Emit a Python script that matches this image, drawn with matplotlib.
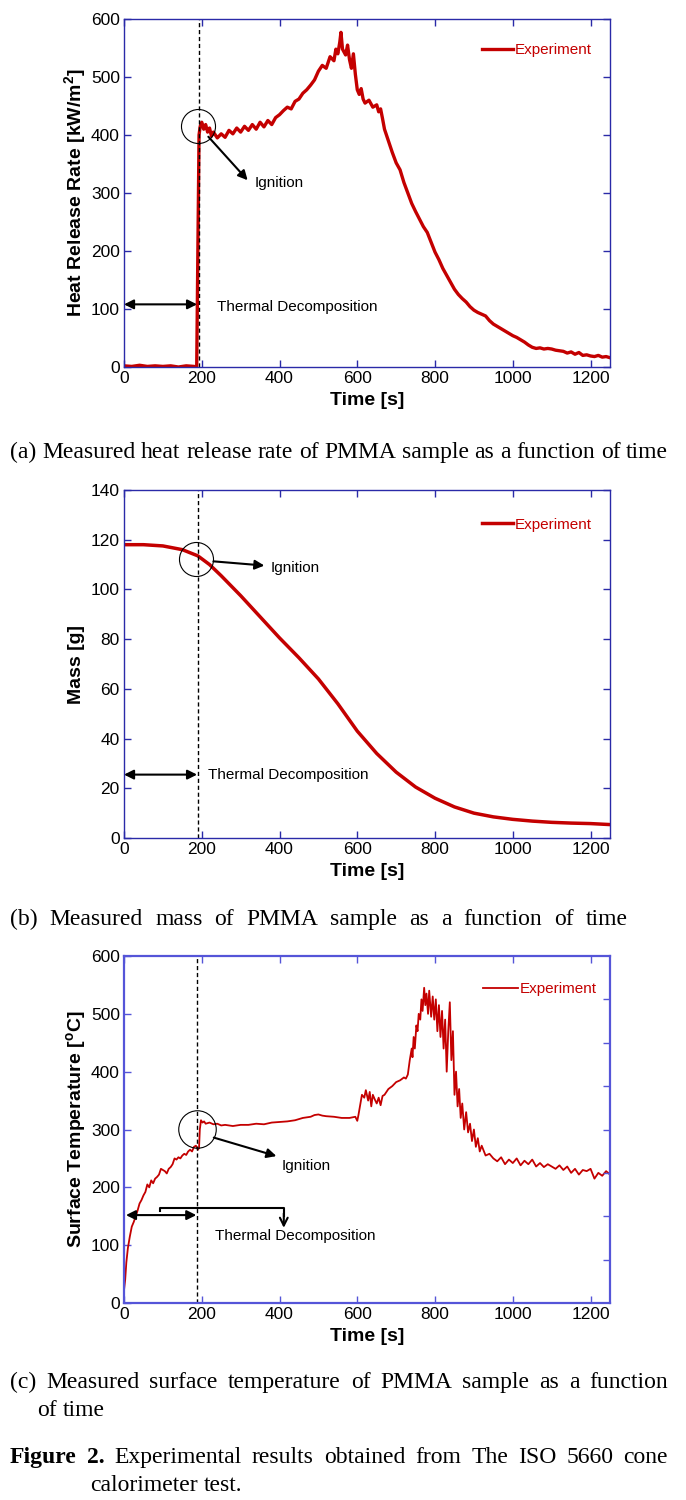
import matplotlib
matplotlib.use('Agg')
import matplotlib.pyplot as plt

plt.rcParams['font.family'] = ['Liberation Sans', 'DejaVu Sans']
plt.rcParams['mathtext.fontset'] = 'custom'
plt.rcParams['mathtext.rm'] = 'Liberation Sans'
plt.rcParams['mathtext.bf'] = 'Liberation Sans:bold'

# (a) heat release rate [kW/m2]
hrr_t = [0, 20, 40, 60, 80, 100, 120, 140, 160, 180, 187, 190, 193, 196, 200, 205, 210, 215, 220, 225,
         230, 240, 250, 260, 270, 280, 290, 300, 310, 320, 330, 340, 350, 360, 370, 380, 390, 400, 410,
         420, 430, 440, 450, 460, 470, 480, 490, 500, 510, 520, 530, 540, 545, 550, 555, 558, 562, 570,
         575, 580, 585, 590, 595, 600, 605, 610, 615, 620, 630, 640, 650, 655, 660, 665, 670, 680, 690,
         700, 710, 720, 730, 740, 750, 760, 770, 780, 790, 800, 810, 820, 830, 840, 850, 860, 870, 880,
         890, 900, 910, 920, 930, 940, 950, 960, 970, 980, 990, 1000, 1010, 1020, 1030, 1040, 1050, 1060,
         1070, 1080, 1090, 1100, 1110, 1120, 1130, 1140, 1150, 1160, 1170, 1180, 1190, 1200, 1210, 1220,
         1230, 1240, 1250]
hrr_v = [2, 1, 3, 1, 2, 1, 2, 0, 2, 1, 0, 200, 400, 415, 422, 410, 418, 405, 412, 398,
         405, 395, 402, 396, 408, 402, 412, 405, 415, 408, 418, 410, 422, 414, 425, 418, 430, 435, 442,
         448, 445, 458, 462, 472, 478, 486, 495, 510, 520, 515, 535, 528, 548, 540, 560, 577, 548, 538,
         555, 530, 515, 540, 505, 478, 470, 480, 462, 455, 460, 448, 452, 440, 445, 428, 410, 390, 370,
         352, 340, 318, 300, 282, 268, 255, 242, 232, 215, 198, 185, 170, 158, 146, 134, 125, 118, 112,
         104, 98, 94, 91, 88, 80, 74, 70, 66, 62, 58, 54, 51, 47, 43, 38, 34, 32,
         33, 31, 32, 31, 29, 28, 27, 24, 26, 22, 25, 20, 21, 19, 18, 20,
         17, 18, 16]

# (b) mass [g]
mass_t = [0, 50, 100, 150, 190, 220, 250, 300, 350, 400, 450, 500, 550, 600, 650, 700, 750, 800,
          850, 900, 950, 1000, 1050, 1100, 1150, 1200, 1250]
mass_v = [118, 118, 117.5, 116, 113.5, 110, 105.5, 97.5, 89, 80.5, 72.5, 64, 54, 43, 34, 26.5, 20.5, 16,
          12.5, 10, 8.5, 7.5, 6.8, 6.3, 6, 5.8, 5.4]

# (c) surface temperature [C]
temp_t = [0, 3, 6, 10, 15, 20, 25, 30, 35, 40, 45, 50, 55, 60, 65, 70, 75, 80, 85, 90, 95, 100, 105,
          110, 115, 120, 125, 130, 135, 140, 145, 150, 155, 160, 165, 170, 175, 180, 185, 190, 193, 195,
          198, 202, 206, 210, 220, 230, 240, 250, 260, 280, 300, 320, 340, 360, 380, 400, 420, 440, 460,
          480, 490, 500, 510, 520, 540, 560, 580, 595, 600, 603, 608, 612, 618, 622, 628, 632, 636, 640,
          645, 650, 655, 660, 665, 670, 680, 690, 700, 710, 720, 725, 730, 735, 740, 742, 745, 748, 752,
          755, 758, 762, 765, 768, 772, 775, 778, 782, 785, 790, 794, 798, 802, 806, 810, 814, 818, 822,
          826, 830, 834, 838, 842, 846, 850, 854, 858, 862, 866, 870, 875, 880, 885, 890, 895, 900, 905,
          910, 915, 920, 930, 940, 950, 960, 970, 980, 990, 1000, 1010, 1020, 1030, 1040, 1050, 1060,
          1070, 1080, 1090, 1100, 1110, 1120, 1130, 1140, 1150, 1160, 1170, 1180, 1190, 1200, 1210, 1220,
          1230, 1240, 1250]
temp_v = [22, 40, 70, 95, 115, 132, 140, 150, 160, 172, 178, 186, 192, 205, 200, 212, 207, 215, 218, 222,
          232, 230, 228, 224, 232, 235, 240, 250, 248, 252, 250, 255, 258, 256, 262, 265, 262, 270, 272,
          265, 268, 300, 316, 312, 314, 310, 312, 309, 310, 307, 308, 306, 308, 308, 310, 309, 312, 313,
          314, 316, 320, 322, 325, 326, 324, 323, 322, 320, 320, 322, 315, 325, 345, 360, 355, 368, 350,
          365, 340, 360, 352, 345, 355, 342, 358, 360, 370, 375, 382, 385, 390, 388, 395, 420, 440, 425,
          460, 440, 480, 470, 500, 490, 525, 505, 545, 515, 535, 500, 540, 495, 530, 490, 525, 470, 515,
          460, 505, 440, 490, 400, 470, 520, 420, 470, 360, 400, 340, 370, 320, 345, 300, 330, 295, 310,
          280, 300, 270, 285, 262, 272, 255, 258, 250, 245, 252, 240, 248, 242, 250, 238, 246, 240, 248,
          236, 242, 235, 240, 236, 232, 238, 230, 236, 225, 232, 222, 230, 228, 232, 215, 225, 220, 228,
          222]

RED = '#c40000'
W, H = 686, 1500

fig = plt.figure(figsize=(6.86, 15), dpi=100)


def make_axes(top_px, bottom_px, spine_color, spine_w):
    ax = fig.add_axes([124 / W, 1 - bottom_px / H, (610 - 124) / W, (bottom_px - top_px) / H])
    ax.set_xlim(0, 1250)
    ax.set_xticks(range(0, 1201, 200))
    ax.tick_params(direction='in', top=True, right=True, length=5, width=1,
                   color=spine_color, labelsize=12.5, pad=3)
    for s in ax.spines.values():
        s.set_color(spine_color)
        s.set_linewidth(spine_w)
    ax.set_xlabel('Time [s]', fontsize=14, fontweight='bold', labelpad=4)
    return ax


def double_arrow(ax, x0, x1, y):
    ax.annotate('', xy=(x0, y), xytext=(x1, y),
                arrowprops=dict(arrowstyle='<|-|>', color='black', lw=1.5,
                                mutation_scale=14, shrinkA=0, shrinkB=0))


def arrow(ax, x0, y0, x1, y1, style='-|>'):
    ax.annotate('', xy=(x1, y1), xytext=(x0, y0),
                arrowprops=dict(arrowstyle=style, color='black', lw=1.5,
                                mutation_scale=14, shrinkA=0, shrinkB=0))


# ---- (a)
ax1 = make_axes(19, 367, '#2a2aa8', 1.0)
ax1.set_ylim(0, 600)
ax1.set_yticks(range(0, 601, 100))
ax1.plot(hrr_t, hrr_v, color=RED, lw=2.4, label='Experiment')
ax1.axvline(192, color='black', ls=(0, (3, 2)), lw=1)
ax1.plot(191, 415, 'o', ms=24.5, mfc='none', mec='black', mew=0.8)
arrow(ax1, 217, 397, 318, 322)
ax1.text(336, 318, 'Ignition', fontsize=11, va='center')
double_arrow(ax1, 0, 188, 108)
ax1.text(238, 103, 'Thermal Decomposition', fontsize=11, va='center')
ax1.set_ylabel(r'Heat Release Rate [kW/m$^\mathbf{2}$]', fontsize=14, fontweight='bold', labelpad=1)
ax1.legend(frameon=False, loc='upper right', bbox_to_anchor=(0.962, 0.93), borderaxespad=0,
           borderpad=0, fontsize=11, labelcolor='linecolor', handlelength=2.0, handletextpad=0.1)

# ---- (b)
ax2 = make_axes(490, 838, '#2a2aa8', 1.0)
ax2.set_ylim(0, 140)
ax2.set_yticks(range(0, 141, 20))
ax2.plot(mass_t, mass_v, color=RED, lw=2.5, label='Experiment')
ax2.axvline(191, color='black', ls=(0, (3, 2)), lw=1)
ax2.plot(186, 112.4, 'o', ms=24.5, mfc='none', mec='black', mew=0.8)
arrow(ax2, 230, 111.3, 361, 109.6)
ax2.text(376, 108.7, 'Ignition', fontsize=11, va='center')
double_arrow(ax2, 0, 188, 25.5)
ax2.text(217, 25.3, 'Thermal Decomposition', fontsize=11, va='center')
ax2.set_ylabel('Mass [g]', fontsize=14, fontweight='bold', labelpad=4)
ax2.legend(frameon=False, loc='upper right', bbox_to_anchor=(0.962, 0.92), borderaxespad=0,
           borderpad=0, fontsize=11, labelcolor='linecolor', handlelength=2.0, handletextpad=0.1)

# ---- (c)
ax3 = make_axes(956, 1303, '#5555d8', 1.6)
ax3.set_ylim(0, 600)
ax3.set_yticks(range(0, 601, 100))
ax3.tick_params(right=False)
ax3r = ax3.twinx()
ax3r.set_ylim(0, 600)
ax3r.set_yticks(range(75, 526, 75))
ax3r.tick_params(direction='in', length=5, width=1, color='#5555d8', labelright=False)
for s in ax3r.spines.values():
    s.set_visible(False)
ax3.plot(temp_t, temp_v, color=RED, lw=1.3, label='Experiment')
ax3.axvline(187, color='black', ls=(0, (3, 2)), lw=1)
ax3.plot(189, 301, 'o', ms=27, mfc='none', mec='black', mew=0.8)
arrow(ax3, 231, 286, 392, 254)
ax3.text(406, 237, 'Ignition', fontsize=11, va='center')
double_arrow(ax3, 5, 186, 152)
ax3.plot([92, 92, 411, 411], [159, 165, 165, 150], color='black', lw=1.5)
arrow(ax3, 411, 155, 411, 130, style='->')
ax3.text(235, 115, 'Thermal Decomposition', fontsize=11, va='center')
ax3.set_ylabel(r'Surface Temperature [$^\mathbf{o}$C]', fontsize=14, fontweight='bold', labelpad=1)
ax3.legend(frameon=False, loc='upper right', bbox_to_anchor=(0.972, 0.925), borderaxespad=0,
           borderpad=0, fontsize=11, labelcolor='linecolor', handlelength=2.3, handletextpad=0.1)

# ---- captions (justified, serif)
renderer = fig.canvas.get_renderer()


def caption_line(words, x0, x1, y, size=17, justify=True):
    items = []
    for w in words:
        bold = w.startswith('*')
        t = fig.text(0, 1 - y / H, w.lstrip('*'), fontsize=size, family='Liberation Serif',
                     fontweight='bold' if bold else 'normal', va='baseline')
        items.append((t, t.get_window_extent(renderer).width))
    total = sum(wd for _, wd in items)
    if justify and len(items) > 1:
        gap = (x1 - x0 - total) / (len(items) - 1)
    else:
        gap = size * 0.25 * 100 / 72
    x = x0
    for t, wd in items:
        t.set_x(x / W)
        x += wd + gap


caption_line('(a) Measured heat release rate of PMMA sample as a function of time'.split(), 10, 668, 458)
caption_line('(b) Measured mass of PMMA sample as a function of time'.split(), 10, 628, 925)
caption_line('(c) Measured surface temperature of PMMA sample as a function'.split(), 10, 668, 1388)
caption_line('of time'.split(), 37, 668, 1416, justify=False)
caption_line('*Figure *2. Experimental results obtained from The ISO 5660 cone'.split(), 10, 668, 1463)
caption_line('calorimeter test.'.split(), 90, 668, 1491, justify=False)

fig.savefig('out.png', dpi=100)
